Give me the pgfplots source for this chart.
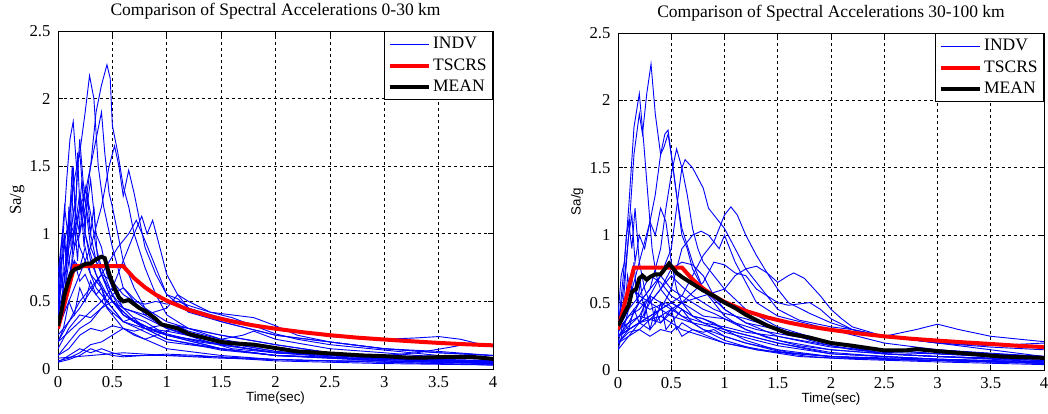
\documentclass[border=0pt]{standalone}
\usepackage{pgfplots}
\pgfplotsset{compat=1.18}
\usepackage{fontspec}
\setmainfont{Liberation Serif}
\newfontfamily\arialfont{Liberation Sans}
\begin{document}
\begin{tikzpicture}
\useasboundingbox (0,0) rectangle (628.8pt,248.4pt);
\pgfplotsset{
  indv/.style={color=blue, line width=0.55pt, forget plot},
  tscrs/.style={color=red, line width=2.4pt},
  meanl/.style={color=black, line width=2.4pt},
  every axis title/.style={at={(0.5,1)}, anchor=center, yshift=12pt, font=\fontsize{10.5}{12}\selectfont},
  every axis x label/.style={at={(0.5,0)}, anchor=center, yshift=-17.4pt, font=\arialfont\fontsize{8}{9}\selectfont},
  mstyle/.style={
    scale only axis,
    anchor=south west,
    xmin=0, xmax=4, ymin=0, ymax=2.5,
    xtick={0,0.5,...,4}, ytick={0,0.5,...,2.5},
    grid=major,
    major grid style={black, line width=0.4pt, dash pattern=on 1.8pt off 1.8pt},
    tick align=inside,
    major tick length=3pt,
    axis line style={black, line width=0.5pt},
    tick style={black, line width=0.4pt},
    /pgf/number format/assume math mode=true,
    xticklabel={\pgfmathprintnumber{\tick}},
    yticklabel={\pgfmathprintnumber{\tick}},
    ticklabel style={font=\fontsize{10}{11}\selectfont},
    xticklabel style={yshift=-1pt},
    yticklabel style={xshift=-1pt},
    xlabel={Time(sec)},
    legend style={at={(1,1)}, anchor=north east, draw=black, line width=0.6pt, fill=white,
      font=\fontsize{10.5}{12}\selectfont, inner xsep=2pt, inner ysep=2pt,
      row sep=1.4pt, nodes={inner sep=1.5pt}, cells={anchor=west}},
    legend image code/.code={\draw[##1] (0pt,0pt) -- (23.4pt,0pt);},
  }
}
% ---------------- LEFT ----------------
\begin{axis}[mstyle, at={(34.8pt,27pt)}, width=261pt, height=202.8pt,
  title={Comparison of Spectral Accelerations 0-30 km},
  ylabel={Sa/g},
  ylabel style={at={(axis description cs:-0.094,0.5)}, anchor=center, font=\fontsize{10}{11}\selectfont}]
\addplot[indv, forget plot=false] coordinates {(0,0.35)(0.05,0.5)(0.1,0.8)(0.15,1.0)(0.2,1.2)(0.25,1.3)(0.3,1.5)(0.35,1.9)(0.4,2.1)(0.45,2.25)(0.48,2.15)(0.5,1.8)(0.55,1.6)(0.6,1.35)(0.65,1.2)(0.7,1.0)(0.8,0.75)(0.9,0.55)(1.0,0.4)(1.2,0.3)(1.5,0.22)(2.0,0.15)(2.5,0.1)(3.0,0.08)(3.5,0.06)(4.0,0.05)};
\addlegendentry{INDV}
\addplot[indv] coordinates {(0,0.3)(0.05,0.6)(0.1,1.1)(0.15,1.4)(0.2,1.6)(0.25,1.9)(0.29,2.17)(0.33,2.0)(0.37,1.5)(0.42,1.2)(0.5,0.9)(0.6,0.6)(0.7,0.5)(0.8,0.4)(1.0,0.3)(1.3,0.22)(1.6,0.15)(2.0,0.12)(2.5,0.09)(3,0.06)(4,0.04)};
\addplot[indv] coordinates {(0,0.4)(0.04,0.9)(0.08,1.4)(0.11,1.7)(0.14,1.83)(0.17,1.5)(0.2,1.6)(0.23,1.3)(0.26,1.2)(0.3,1.0)(0.35,0.8)(0.4,0.7)(0.5,0.55)(0.6,0.4)(0.8,0.3)(1.0,0.22)(1.5,0.14)(2,0.1)(3,0.06)(4,0.04)};
\addplot[indv] coordinates {(0,0.3)(0.05,0.4)(0.1,0.6)(0.15,0.9)(0.2,1.0)(0.25,1.2)(0.3,1.5)(0.35,1.7)(0.4,1.9)(0.43,1.6)(0.47,1.3)(0.5,1.2)(0.55,1.0)(0.6,0.8)(0.7,0.6)(0.8,0.45)(1.0,0.35)(1.2,0.3)(1.5,0.25)(2,0.18)(2.5,0.12)(3,0.1)(4,0.07)};
\addplot[indv] coordinates {(0,0.3)(0.1,0.5)(0.2,0.7)(0.3,0.9)(0.4,1.2)(0.47,1.5)(0.52,1.65)(0.56,1.5)(0.6,1.28)(0.65,1.47)(0.7,1.3)(0.75,1.1)(0.8,0.9)(0.9,0.7)(1.0,0.55)(1.2,0.42)(1.5,0.35)(2,0.25)(2.5,0.2)(3,0.15)(3.5,0.12)(4,0.1)};
\addplot[indv] coordinates {(0,0.2)(0.2,0.35)(0.4,0.5)(0.5,0.6)(0.6,0.8)(0.7,1.0)(0.77,1.13)(0.82,1.0)(0.87,1.1)(0.92,0.95)(1.0,0.7)(1.1,0.55)(1.2,0.45)(1.5,0.38)(1.8,0.33)(2.0,0.3)(2.5,0.24)(3.0,0.22)(3.3,0.23)(3.5,0.24)(3.7,0.22)(3.85,0.19)};
\addplot[indv] coordinates {(0,0.25)(0.2,0.45)(0.4,0.7)(0.55,0.9)(0.65,1.0)(0.72,1.1)(0.8,0.95)(0.9,0.75)(1.0,0.55)(1.1,0.52)(1.2,0.45)(1.5,0.35)(2,0.25)(2.5,0.2)(3,0.15)(3.5,0.13)(4,0.1)};
\addplot[indv] coordinates {(0,0.5)(0.05,0.9)(0.1,1.1)(0.15,1.0)(0.2,1.3)(0.25,1.1)(0.3,1.4)(0.35,1.0)(0.4,0.9)(0.45,0.7)(0.5,0.6)(0.6,0.45)(0.8,0.3)(1.0,0.25)(1.5,0.15)(2,0.1)(3,0.07)(4,0.05)};
\addplot[indv] coordinates {(0,0.6)(0.03,0.9)(0.06,1.2)(0.09,1.0)(0.12,1.3)(0.15,1.1)(0.2,0.9)(0.25,0.8)(0.3,0.7)(0.4,0.6)(0.5,0.5)(0.7,0.35)(1.0,0.25)(1.5,0.15)(2,0.1)(3,0.06)(4,0.04)};
\addplot[indv] coordinates {(0,0.05)(0.1,0.1)(0.2,0.15)(0.3,0.12)(0.4,0.15)(0.5,0.12)(0.6,0.1)(0.8,0.1)(1.0,0.11)(1.3,0.1)(1.6,0.08)(2,0.06)(2.5,0.05)(3,0.04)(4,0.03)};
\addplot[indv] coordinates {(0,0.06)(0.1,0.08)(0.2,0.12)(0.3,0.18)(0.4,0.2)(0.5,0.25)(0.6,0.3)(0.7,0.28)(0.8,0.3)(1.0,0.33)(1.2,0.3)(1.5,0.25)(2,0.18)(2.5,0.12)(3,0.08)(3.5,0.06)(4,0.05)};
\addplot[indv] coordinates {(0,0.1)(0.1,0.2)(0.2,0.3)(0.3,0.35)(0.4,0.45)(0.5,0.5)(0.6,0.45)(0.8,0.4)(1.0,0.45)(1.1,0.55)(1.2,0.5)(1.4,0.42)(1.6,0.4)(1.8,0.38)(2.0,0.32)(2.2,0.25)(2.5,0.2)(3,0.15)(3.5,0.12)(4,0.1)};
\addplot[indv] coordinates {(0,0.15)(0.1,0.3)(0.2,0.4)(0.3,0.38)(0.4,0.45)(0.5,0.55)(0.6,0.6)(0.7,0.52)(0.8,0.45)(0.9,0.38)(1.0,0.3)(1.2,0.25)(1.5,0.2)(2,0.13)(2.5,0.1)(3,0.08)(4,0.05)};
\addplot[indv] coordinates {(0,0.35)(0.05,0.5)(0.1,0.7)(0.15,0.8)(0.2,0.75)(0.25,0.9)(0.3,0.7)(0.35,0.6)(0.4,0.55)(0.5,0.45)(0.6,0.35)(0.8,0.3)(1.0,0.28)(1.5,0.2)(2,0.15)(2.5,0.12)(3,0.1)(3.3,0.12)(3.6,0.16)(3.8,0.19)};
\addplot[indv] coordinates {(0,0.45)(0.05,0.7)(0.1,0.9)(0.15,1.2)(0.2,1.0)(0.25,1.35)(0.3,1.15)(0.35,0.9)(0.4,0.75)(0.5,0.55)(0.6,0.45)(0.7,0.42)(0.8,0.38)(1.0,0.3)(1.5,0.2)(2,0.13)(2.5,0.1)(3,0.08)(4,0.05)};
\addplot[indv] coordinates {(0,0.05)(0.1,0.07)(0.2,0.1)(0.3,0.15)(0.4,0.12)(0.5,0.1)(0.6,0.09)(0.8,0.1)(1.0,0.1)(1.5,0.09)(2,0.07)(2.5,0.06)(3,0.05)(4,0.03)};
\addplot[indv] coordinates {(0,0.1)(0.1,0.15)(0.2,0.25)(0.3,0.3)(0.4,0.28)(0.5,0.32)(0.6,0.3)(0.7,0.25)(0.8,0.22)(1.0,0.28)(1.1,0.32)(1.2,0.28)(1.5,0.22)(1.7,0.25)(1.8,0.28)(2.0,0.22)(2.5,0.15)(3,0.12)(3.3,0.1)(3.6,0.09)(4,0.07)};
\addplot[indv] coordinates {(0,0.3)(0.05,0.5)(0.1,0.6)(0.15,0.8)(0.2,0.65)(0.25,0.7)(0.3,0.6)(0.35,0.55)(0.4,0.5)(0.5,0.42)(0.6,0.35)(0.7,0.38)(0.8,0.35)(0.9,0.3)(1.0,0.25)(1.5,0.18)(2,0.12)(2.5,0.1)(3,0.08)(3.5,0.07)(4,0.06)};
\addplot[indv] coordinates {(0,0.2)(0.1,0.35)(0.2,0.5)(0.3,0.6)(0.4,0.7)(0.5,0.65)(0.6,0.55)(0.7,0.5)(0.8,0.48)(0.9,0.5)(1.0,0.48)(1.1,0.5)(1.2,0.47)(1.4,0.42)(1.6,0.38)(1.8,0.32)(2.0,0.26)(2.2,0.22)(2.5,0.18)(3.0,0.14)(3.5,0.1)(4.0,0.08)};
\addplot[indv] coordinates {(0,0.4)(0.05,0.6)(0.1,0.9)(0.13,1.5)(0.16,1.2)(0.2,1.7)(0.23,1.4)(0.27,1.1)(0.3,0.9)(0.35,0.8)(0.4,0.7)(0.5,0.5)(0.6,0.4)(0.8,0.3)(1,0.22)(1.5,0.15)(2,0.1)(3,0.07)(4,0.04)};
\addplot[indv] coordinates {(0,0.08)(0.3,0.1)(0.6,0.12)(1.0,0.1)(1.5,0.08)(2.0,0.07)(2.5,0.06)(3.0,0.06)(3.5,0.05)(4.0,0.05)};
\addplot[indv] coordinates {(0,0.7)(0.04,1.0)(0.08,0.8)(0.11,1.1)(0.15,0.9)(0.2,1.2)(0.25,1.0)(0.3,0.85)(0.35,0.7)(0.45,0.55)(0.6,0.4)(0.9,0.28)(1.3,0.2)(2,0.12)(3,0.08)(4,0.06)};
\addplot[indv] coordinates {(0,0.5)(0.02,0.8)(0.04,0.6)(0.06,1.0)(0.08,0.75)(0.1,1.2)(0.12,0.9)(0.14,1.5)(0.16,1.1)(0.18,1.6)(0.2,1.2)(0.22,1.4)(0.25,1.0)(0.3,0.8)(0.35,0.7)(0.45,0.5)(0.6,0.35)(1,0.2)(2,0.1)(4,0.05)};
\addplot[indv] coordinates {(0,0.3)(0.03,0.7)(0.06,0.5)(0.09,0.9)(0.12,0.7)(0.15,1.1)(0.18,0.8)(0.21,1.25)(0.24,0.9)(0.27,1.3)(0.3,1.0)(0.33,1.2)(0.36,0.85)(0.4,0.7)(0.5,0.5)(0.7,0.35)(1,0.25)(2,0.12)(3,0.08)(4,0.06)};
\addplot[indv] coordinates {(0,0.2)(0.05,0.3)(0.1,0.5)(0.15,0.4)(0.2,0.6)(0.25,0.5)(0.3,0.65)(0.35,0.55)(0.4,0.6)(0.45,0.45)(0.5,0.4)(0.6,0.3)(0.8,0.22)(1,0.15)(1.5,0.1)(2,0.07)(3,0.05)(4,0.03)};
\addplot[tscrs] coordinates {(0,0.30)(0.15,0.76)(0.6,0.76)(0.7,0.672)(0.8,0.604)(0.9,0.549)(1.0,0.505)(1.2,0.438)(1.4,0.39)(1.6,0.352)(1.8,0.322)(2.0,0.298)(2.25,0.272)(2.5,0.25)(2.75,0.232)(3.0,0.218)(3.25,0.205)(3.5,0.193)(3.75,0.183)(4.0,0.175)};
\addlegendentry{TSCRS}
\addplot[meanl] coordinates {(0,0.32)(0.03,0.42)(0.06,0.55)(0.1,0.66)(0.13,0.72)(0.16,0.74)(0.2,0.75)(0.23,0.77)(0.27,0.78)(0.3,0.78)(0.33,0.8)(0.37,0.82)(0.4,0.83)(0.43,0.82)(0.45,0.76)(0.48,0.68)(0.52,0.6)(0.56,0.53)(0.6,0.5)(0.65,0.51)(0.7,0.48)(0.75,0.45)(0.8,0.43)(0.85,0.4)(0.9,0.37)(0.95,0.33)(1.0,0.32)(1.1,0.3)(1.2,0.26)(1.3,0.24)(1.4,0.22)(1.5,0.2)(1.6,0.19)(1.8,0.18)(2.0,0.155)(2.2,0.13)(2.5,0.115)(2.8,0.1)(3.0,0.095)(3.2,0.085)(3.4,0.085)(3.6,0.09)(3.8,0.09)(4.0,0.075)};
\addlegendentry{MEAN}
\end{axis}
% ---------------- RIGHT ----------------
\begin{axis}[mstyle, at={(370.8pt,26.4pt)}, width=255.6pt, height=202.2pt,
  title={Comparison of Spectral Accelerations 30-100 km},
  ylabel={Sa/g},
  ylabel style={at={(axis description cs:-0.096,0.5)}, anchor=center, font=\arialfont\fontsize{8}{9}\selectfont}]
\addplot[indv, forget plot=false] coordinates {(0,0.25)(0.05,0.5)(0.1,1.0)(0.15,1.6)(0.2,1.9)(0.23,1.75)(0.27,2.05)(0.31,2.27)(0.35,1.9)(0.4,1.6)(0.43,1.65)(0.47,1.75)(0.5,1.6)(0.55,1.3)(0.6,1.05)(0.7,0.8)(0.8,0.6)(1.0,0.45)(1.2,0.35)(1.5,0.25)(2,0.18)(2.5,0.12)(3,0.1)(4,0.07)};
\addlegendentry{INDV}
\addplot[indv] coordinates {(0,0.3)(0.05,0.7)(0.1,1.2)(0.15,1.8)(0.2,2.05)(0.24,1.7)(0.28,1.3)(0.32,0.9)(0.36,0.7)(0.4,0.6)(0.5,0.5)(0.6,0.45)(0.8,0.35)(1,0.28)(1.5,0.18)(2,0.12)(2.5,0.1)(3,0.08)(4,0.06)};
\addplot[indv] coordinates {(0,0.3)(0.1,0.5)(0.2,0.8)(0.3,1.1)(0.35,1.3)(0.4,1.6)(0.44,1.75)(0.47,1.78)(0.5,1.6)(0.55,1.3)(0.6,1.0)(0.65,0.9)(0.7,0.75)(0.8,0.6)(0.9,0.5)(1,0.4)(1.2,0.3)(1.5,0.22)(2,0.15)(2.5,0.12)(3,0.1)(4,0.06)};
\addplot[indv] coordinates {(0,0.25)(0.1,0.35)(0.2,0.5)(0.3,0.6)(0.4,0.9)(0.45,1.2)(0.5,1.45)(0.55,1.64)(0.6,1.5)(0.65,1.3)(0.7,1.05)(0.75,0.9)(0.8,0.8)(0.9,0.7)(1.0,0.6)(1.2,0.45)(1.5,0.32)(2,0.2)(2.5,0.15)(3,0.12)(4,0.08)};
\addplot[indv] coordinates {(0,0.25)(0.2,0.4)(0.4,0.7)(0.5,0.9)(0.55,1.2)(0.6,1.5)(0.63,1.56)(0.7,1.5)(0.8,1.35)(0.85,1.2)(0.9,1.15)(1.0,1.05)(1.1,0.9)(1.2,0.75)(1.3,0.65)(1.4,0.55)(1.5,0.45)(1.7,0.37)(2.0,0.32)(2.2,0.3)(2.5,0.25)(2.8,0.3)(3.0,0.34)(3.2,0.3)(3.5,0.25)(4.0,0.21)};
\addplot[indv] coordinates {(0,0.25)(0.2,0.35)(0.4,0.45)(0.6,0.55)(0.7,0.7)(0.8,0.85)(0.9,0.95)(1.0,1.15)(1.06,1.21)(1.12,1.15)(1.2,1.0)(1.3,0.85)(1.4,0.72)(1.5,0.6)(1.6,0.5)(1.8,0.42)(2.0,0.35)(2.2,0.3)(2.5,0.25)(3,0.2)(3.5,0.17)(4,0.15)};
\addplot[indv] coordinates {(0,0.2)(0.2,0.3)(0.4,0.45)(0.5,0.6)(0.6,0.9)(0.65,0.95)(0.7,1.0)(0.78,1.03)(0.85,1.0)(0.9,0.95)(0.95,0.9)(1.0,1.0)(1.05,0.9)(1.1,0.8)(1.2,0.65)(1.3,0.5)(1.5,0.4)(2,0.3)(2.5,0.2)(3,0.15)(4,0.1)};
\addplot[indv] coordinates {(0,0.3)(0.2,0.4)(0.4,0.35)(0.6,0.5)(0.8,0.55)(1.0,0.6)(1.1,0.7)(1.2,0.75)(1.3,0.77)(1.4,0.72)(1.5,0.65)(1.6,0.7)(1.65,0.72)(1.75,0.68)(1.9,0.55)(2.0,0.45)(2.1,0.38)(2.2,0.32)(2.5,0.25)(3,0.2)(3.5,0.15)(4,0.1)};
\addplot[indv] coordinates {(0,0.3)(0.05,0.6)(0.1,1.0)(0.13,1.15)(0.16,0.8)(0.2,1.0)(0.25,0.9)(0.3,1.1)(0.35,1.0)(0.4,1.2)(0.45,1.1)(0.5,0.8)(0.55,0.6)(0.6,0.5)(0.7,0.4)(0.8,0.38)(1,0.3)(1.5,0.2)(2,0.13)(2.5,0.1)(3,0.08)(4,0.05)};
\addplot[indv] coordinates {(0,0.4)(0.03,0.7)(0.06,0.8)(0.08,1.0)(0.1,1.1)(0.13,0.9)(0.16,1.2)(0.2,0.8)(0.25,0.6)(0.3,0.5)(0.4,0.45)(0.5,0.4)(0.7,0.35)(1,0.3)(1.5,0.2)(2,0.12)(3,0.08)(4,0.05)};
\addplot[indv] coordinates {(0,0.25)(0.1,0.3)(0.2,0.35)(0.3,0.5)(0.4,0.6)(0.5,0.75)(0.6,0.8)(0.7,0.78)(0.8,0.7)(0.9,0.55)(1.0,0.45)(1.2,0.35)(1.5,0.3)(1.8,0.25)(2,0.2)(2.5,0.15)(3,0.12)(4,0.1)};
\addplot[indv] coordinates {(0,0.2)(0.1,0.28)(0.2,0.3)(0.3,0.25)(0.4,0.3)(0.5,0.28)(0.55,0.32)(0.6,0.25)(0.7,0.3)(0.8,0.28)(0.9,0.3)(1.0,0.25)(1.2,0.2)(1.5,0.15)(2.0,0.1)(2.5,0.08)(3,0.07)(4,0.05)};
\addplot[indv] coordinates {(0,0.15)(0.1,0.25)(0.2,0.35)(0.3,0.4)(0.4,0.45)(0.5,0.5)(0.6,0.45)(0.7,0.4)(0.8,0.38)(0.9,0.35)(1.0,0.3)(1.2,0.22)(1.4,0.17)(1.6,0.13)(2,0.1)(2.5,0.08)(3,0.07)(4,0.05)};
\addplot[indv] coordinates {(0,0.3)(0.1,0.45)(0.2,0.55)(0.3,0.5)(0.4,0.6)(0.5,0.7)(0.6,0.62)(0.7,0.55)(0.8,0.5)(0.9,0.45)(1.0,0.42)(1.2,0.38)(1.4,0.33)(1.6,0.28)(1.8,0.22)(2.0,0.18)(2.2,0.15)(2.5,0.13)(3,0.12)(3.5,0.1)(4,0.08)};
\addplot[indv] coordinates {(0,0.35)(0.1,0.5)(0.15,0.6)(0.2,0.55)(0.3,0.7)(0.4,0.65)(0.5,0.55)(0.6,0.5)(0.7,0.45)(0.8,0.4)(1.0,0.38)(1.2,0.3)(1.4,0.24)(1.7,0.18)(2,0.15)(2.5,0.12)(3,0.1)(4,0.07)};
\addplot[indv] coordinates {(0,0.28)(0.1,0.4)(0.2,0.45)(0.3,0.55)(0.4,0.5)(0.5,0.45)(0.6,0.4)(0.8,0.35)(1.0,0.32)(1.2,0.28)(1.5,0.25)(1.8,0.2)(2.0,0.17)(2.5,0.14)(2.8,0.16)(3.0,0.15)(3.5,0.12)(4,0.1)};
\addplot[indv] coordinates {(0,0.3)(0.1,0.4)(0.2,0.5)(0.3,0.6)(0.4,0.7)(0.5,0.6)(0.6,0.55)(0.7,0.5)(0.8,0.45)(0.9,0.42)(1.0,0.38)(1.1,0.35)(1.3,0.3)(1.5,0.27)(1.8,0.23)(2.0,0.2)(2.3,0.15)(2.5,0.12)(3,0.1)(3.5,0.09)(4,0.07)};
\addplot[indv] coordinates {(0,0.2)(0.1,0.3)(0.2,0.35)(0.3,0.3)(0.4,0.4)(0.5,0.35)(0.6,0.45)(0.7,0.35)(0.8,0.3)(0.9,0.28)(1.0,0.25)(1.2,0.2)(1.4,0.16)(1.6,0.12)(1.8,0.1)(2,0.09)(2.5,0.08)(3,0.07)(4,0.05)};
\addplot[indv] coordinates {(0,0.25)(0.2,0.35)(0.4,0.4)(0.6,0.5)(0.8,0.65)(0.9,0.8)(1.0,0.78)(1.1,0.72)(1.2,0.7)(1.3,0.6)(1.4,0.55)(1.5,0.5)(1.6,0.48)(1.8,0.5)(1.9,0.45)(2.0,0.38)(2.2,0.3)(2.5,0.25)(3,0.2)(3.5,0.18)(4,0.2)};
\addplot[indv] coordinates {(0,0.15)(0.05,0.3)(0.1,0.45)(0.15,0.6)(0.2,0.5)(0.3,0.45)(0.45,0.5)(0.6,0.4)(0.8,0.3)(1.0,0.22)(1.3,0.15)(1.7,0.1)(2.2,0.08)(3,0.06)(4,0.04)};
\addplot[indv] coordinates {(0,0.3)(0.03,0.5)(0.06,0.4)(0.09,0.7)(0.12,0.55)(0.15,0.8)(0.18,0.5)(0.21,0.65)(0.25,0.4)(0.3,0.55)(0.35,0.35)(0.4,0.5)(0.45,0.3)(0.5,0.35)(0.6,0.3)(0.8,0.25)(1,0.2)(1.5,0.13)(2,0.1)(3,0.07)(4,0.05)};
\addplot[indv] coordinates {(0,0.2)(0.05,0.35)(0.1,0.3)(0.15,0.45)(0.2,0.35)(0.25,0.5)(0.3,0.3)(0.35,0.45)(0.4,0.35)(0.5,0.45)(0.55,0.3)(0.6,0.35)(0.7,0.3)(0.85,0.25)(1,0.2)(1.3,0.15)(2,0.1)(3,0.08)(4,0.06)};
\addplot[tscrs] coordinates {(0,0.30)(0.15,0.76)(0.6,0.76)(0.7,0.672)(0.8,0.604)(0.9,0.549)(1.0,0.505)(1.2,0.438)(1.4,0.39)(1.6,0.352)(1.8,0.322)(2.0,0.298)(2.25,0.272)(2.5,0.25)(2.75,0.232)(3.0,0.218)(3.25,0.205)(3.5,0.193)(3.75,0.18)(4.0,0.17)};
\addlegendentry{TSCRS}
\addplot[meanl] coordinates {(0,0.33)(0.03,0.37)(0.06,0.42)(0.1,0.48)(0.13,0.58)(0.17,0.6)(0.2,0.68)(0.23,0.7)(0.27,0.67)(0.3,0.69)(0.35,0.71)(0.4,0.71)(0.45,0.76)(0.48,0.79)(0.52,0.75)(0.55,0.72)(0.6,0.69)(0.7,0.64)(0.8,0.59)(0.9,0.55)(1.0,0.5)(1.1,0.46)(1.2,0.41)(1.3,0.37)(1.4,0.33)(1.5,0.3)(1.6,0.27)(1.8,0.24)(2.0,0.2)(2.2,0.18)(2.5,0.145)(2.7,0.145)(2.8,0.155)(3.0,0.14)(3.3,0.12)(3.6,0.1)(4.0,0.09)};
\addlegendentry{MEAN}
\end{axis}
\end{tikzpicture}
\end{document}
